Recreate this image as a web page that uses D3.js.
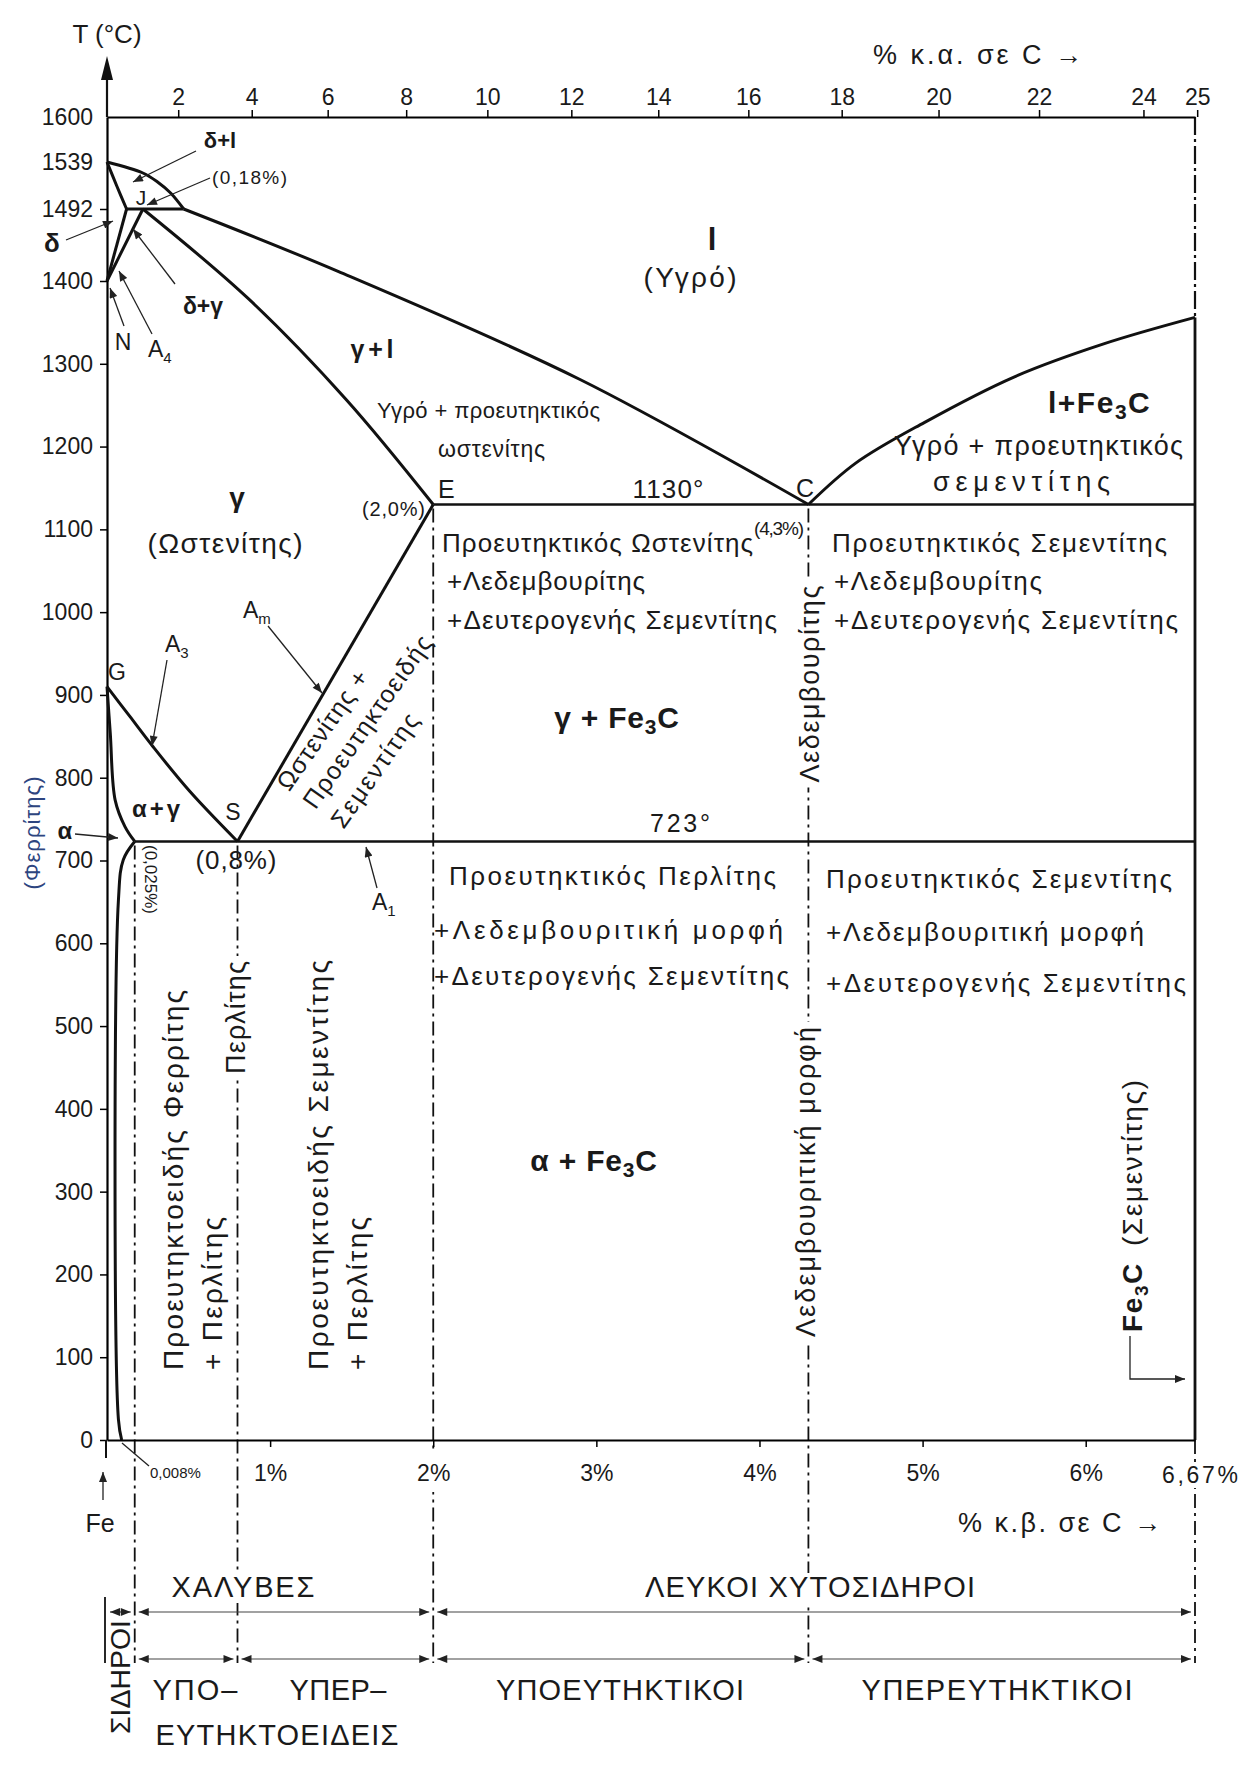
<!DOCTYPE html>
<html>
<head>
<meta charset="utf-8">
<script src="https://cdnjs.cloudflare.com/ajax/libs/d3/7.8.5/d3.min.js"></script>
<style>
  body { margin: 0; background: #fff; }
  svg { font-family: "Liberation Sans", Arial, Helvetica, sans-serif; }
  text { fill: #1a1a1a; }
</style>
</head>
<body>
<script>
// ---- data: points are [wt% C, temperature °C] ----
var tempTicks = [1600, 1539, 1492, 1400, 1300, 1200, 1100, 1000, 900, 800, 700, 600, 500, 400, 300, 200, 100, 0];
var wtTicks = [1, 2, 3, 4, 5, 6];
var atTicks = [2, 4, 6, 8, 10, 12, 14, 16, 18, 20, 22, 24, 25];

var liquidusAB = [[0, 1539], [0.22, 1528], [0.31, 1519], [0.39, 1508], [0.47, 1492]];
var solidusAH = [[0, 1539], [0.06, 1515], [0.12, 1492]];
var peritectic = [[0.12, 1492], [0.47, 1492]];
var lineHN = [[0.12, 1492], [0, 1400]];
var lineJN = [[0.22, 1492], [0, 1400]];
var solidusJE = [[0.22, 1492], [0.87, 1378], [1.47, 1256], [2.0, 1130]];
var liquidusBC = [[0.47, 1492], [1.42, 1412], [2.9, 1281], [4.3, 1130]];
var liquidusCD = [[4.3, 1130], [4.59, 1180], [5.01, 1229], [5.56, 1284], [6.11, 1324], [6.67, 1356]];
var eutectic = [[2.0, 1130], [6.67, 1130]];
var acmES = [[2.0, 1130], [0.8, 723]];
var a3GS = [[0, 910], [0.14, 874], [0.28, 838], [0.51, 783], [0.8, 723]];
var ferriteGP = [[0, 910], [0.02, 854], [0.05, 773], [0.11, 741], [0.17, 723]];
var solvusPQ = [[0.17, 723], [0.1, 701], [0.07, 652], [0.07, 25], [0.09, 0]];
var eutectoid = [[0.17, 723], [6.67, 723]];

// dash-dot composition lines and where they start
var guideX = [0.17, 0.8, 2.0, 4.3];
var guideTop = [723, 723, 1130, 1130];
var edgeX = 6.67, edgeD = 1356;

// classification arrows under the chart
var rowSteelCast = [[0, 0.17], [0.17, 2.0], [2.0, 6.67]];
var rowEutectic = [[0.17, 0.8], [0.8, 2.0], [2.0, 4.3], [4.3, 6.67]];

// atomic % -> weight % carbon (Fe 55.85, C 12)
function wtFromAt(a) { return 12 * a / (12 * a + 55.85 * (100 - a)) * 100; }

window.onload = function () {
  var W = 1252, H = 1767;
  var svg = d3.select("body").append("svg").attr("width", W).attr("height", H);

  var x = d3.scaleLinear().domain([0, 6.67]).range([107, 1195]);
  // top of the picture is stretched around the delta region
  var y = d3.scaleLinear().domain([0, 1400, 1492, 1539, 1600]).range([1440, 281, 209, 162, 117]);
  var yBottom = 1663;
  var font = "Liberation Sans, Arial, sans-serif";

  var defs = svg.append("defs");
  defs.append("marker").attr("id", "arr").attr("viewBox", "0 0 10 8")
    .attr("refX", 10).attr("refY", 4).attr("markerWidth", 11).attr("markerHeight", 8)
    .attr("markerUnits", "userSpaceOnUse").attr("orient", "auto-start-reverse")
    .append("path").attr("d", "M0,0 L10,4 L0,8 z").attr("fill", "#222");

  var line = d3.line().x(function (d) { return x(d[0]); }).y(function (d) { return y(d[1]); });
  var curvy = d3.line().x(function (d) { return x(d[0]); }).y(function (d) { return y(d[1]); })
    .curve(d3.curveCatmullRom.alpha(0.5));

  // white box behind a text so the dash-dot lines break around it
  function mask(node, pad) {
    var b = node.getBBox();
    var r = d3.select(node.parentNode).insert("rect", function () { return node; })
      .attr("x", b.x - pad).attr("y", b.y + 2).attr("width", b.width + 2 * pad).attr("height", b.height - 2)
      .attr("fill", "#fff");
    var tr = node.getAttribute("transform");
    if (tr) r.attr("transform", tr);
    return r;
  }

  // ---- axes ----
  var left = svg.append("g").attr("transform", "translate(107,0)")
    .call(d3.axisLeft(y).tickValues(tempTicks).tickSize(7).tickSizeOuter(0).tickPadding(7)
      .tickFormat(d3.format("d")));
  left.selectAll("text").attr("font-size", 23).attr("font-family", font).attr("fill", "#1a1a1a");
  left.selectAll("line").attr("stroke-width", 1.5);
  left.select(".domain").attr("stroke-width", 2.2);
  left.selectAll(".tick").filter(function (d) { return d === 1600 || d === 1539; }).select("line").remove();
  // axis arrow up + stub below zero
  svg.append("line").attr("x1", 107).attr("x2", 107).attr("y1", 117).attr("y2", 78).attr("stroke", "#111").attr("stroke-width", 2.2);
  svg.append("path").attr("d", "M107,56 L101,80 L113,80 z").attr("fill", "#111");
  svg.append("line").attr("x1", 106).attr("x2", 106).attr("y1", 1440).attr("y2", 1458).attr("stroke", "#111").attr("stroke-width", 2);

  // ---- phase boundaries ----
  var g = svg.append("g").attr("fill", "none").attr("stroke", "#111").attr("stroke-linejoin", "round");
  [liquidusAB, solidusAH, liquidusBC, liquidusCD, solidusJE, a3GS, ferriteGP, solvusPQ].forEach(function (d) {
    g.append("path").attr("d", curvy(d)).attr("stroke-width", 3);
  });
  [peritectic, lineHN, lineJN, acmES].forEach(function (d) {
    g.append("path").attr("d", line(d)).attr("stroke-width", 3);
  });
  [eutectic, eutectoid].forEach(function (d) {
    g.append("path").attr("d", line(d)).attr("stroke-width", 2.6);
  });

  // right edge: dash-dot above the liquidus, solid below
  g.append("line").attr("x1", x(edgeX)).attr("x2", x(edgeX)).attr("y1", y(1600)).attr("y2", y(edgeD))
    .attr("stroke-width", 2.2).attr("stroke-dasharray", "18,4,3,4");
  g.append("line").attr("x1", x(edgeX)).attr("x2", x(edgeX)).attr("y1", y(edgeD)).attr("y2", y(0))
    .attr("stroke-width", 2.8);
  g.append("line").attr("x1", x(edgeX)).attr("x2", x(edgeX)).attr("y1", y(0)).attr("y2", yBottom)
    .attr("stroke-width", 1.8).attr("stroke-dasharray", "14,5,3,5");

  // composition guide lines
  guideX.forEach(function (c, i) {
    g.append("line").attr("x1", x(c)).attr("x2", x(c)).attr("y1", y(guideTop[i]) + 4).attr("y2", yBottom)
      .attr("stroke-width", 1.8).attr("stroke-dasharray", "14,5,3,5");
  });
  // little fence left of "ΣΙΔΗΡΟΙ"
  g.append("line").attr("x1", 105).attr("x2", 105).attr("y1", 1597).attr("y2", yBottom).attr("stroke-width", 1.8);

  // bottom + top axes drawn after the guides so their labels can mask them
  var bottom = svg.append("g").attr("transform", "translate(0,1440)")
    .call(d3.axisBottom(x).tickValues(wtTicks).tickSize(7).tickSizeOuter(0)
      .tickFormat(function (d) { return d + "%"; }));
  bottom.selectAll("text").attr("font-size", 23).attr("y", 25).attr("dy", "0.71em")
    .attr("font-family", font).attr("fill", "#1a1a1a");
  bottom.select(".domain").attr("stroke-width", 2.2);
  bottom.selectAll("line").attr("stroke-width", 1.5);
  bottom.selectAll("text").each(function () { mask(this, 4).attr("y", 10).attr("height", 42); });

  var top = svg.append("g").attr("transform", "translate(0,117)")
    .call(d3.axisTop(x).tickValues(atTicks.map(wtFromAt)).tickSize(7).tickSizeOuter(0).tickPadding(5)
      .tickFormat(function (d, i) { return atTicks[i]; }));
  top.selectAll("text").attr("font-size", 23).attr("font-family", font).attr("fill", "#1a1a1a");
  top.select(".domain").attr("stroke-width", 2.2);
  top.selectAll("line").attr("stroke-width", 1.5);

  // classification arrows
  function arrowRow(row, yy) {
    row.forEach(function (s) {
      var a = s[0] === 0 ? 106 : x(s[0]);
      svg.append("line").attr("x1", a + 4).attr("x2", x(s[1]) - 4).attr("y1", yy).attr("y2", yy)
        .attr("stroke", "#444").attr("stroke-width", 1.2)
        .attr("marker-start", "url(#arr)").attr("marker-end", "url(#arr)");
    });
  }
  arrowRow(rowSteelCast, 1612);
  arrowRow(rowEutectic, 1659);

  // ---- annotation pointers ----
  function pointer(x1, y1, x2, y2, head) {
    var l = svg.append("line").attr("x1", x1).attr("y1", y1).attr("x2", x2).attr("y2", y2)
      .attr("stroke", "#222").attr("stroke-width", 1.3);
    if (head !== false) l.attr("marker-end", "url(#arr)");
  }
  pointer(196, 151, 133, 182);
  pointer(210, 178, 147, 205);
  pointer(66, 240, 113, 221);
  pointer(175, 284, 133, 229);
  pointer(124, 326, 110, 288);
  pointer(152, 334, 119, 271);
  pointer(167, 660, 152, 746);
  pointer(268, 626, 322, 693);
  pointer(75, 834, 118, 838);
  pointer(377, 888, 366, 847);
  pointer(122, 1443, 149, 1466, false);
  pointer(103, 1500, 103, 1472);
  // Fe3C bracket
  svg.append("path").attr("d", "M1130,1336 V1379 H1185").attr("fill", "none").attr("stroke", "#222")
    .attr("stroke-width", 1.3).attr("marker-end", "url(#arr)");

  // ---- text ----
  // o.w = width the text takes in the reference (spacing stretched to it)
  function label(px, py, str, size, o) {
    o = o || {};
    var t = svg.append("text").attr("font-size", size).html(str);
    if (o.rot) t.attr("transform", "translate(" + px + "," + py + ") rotate(" + o.rot + ")");
    else t.attr("x", px).attr("y", py);
    t.attr("text-anchor", o.anchor || "start");
    if (o.bold) t.attr("font-weight", "bold");
    if (o.fill) t.style("fill", o.fill);
    if (o.ls) t.attr("letter-spacing", o.ls);
    if (o.w) t.attr("textLength", o.w).attr("lengthAdjust", "spacing");
    if (o.mask) mask(t.node(), 5);
    return t;
  }
  function sub(s, size) { return '<tspan dy="6" font-size="' + size + '">' + s + '</tspan>'; }
  var fe3c = function (size) { return 'Fe<tspan dy="6" font-size="' + size + '">3</tspan><tspan dy="-6">C</tspan>'; };

  label(107, 43, "T (°C)", 26, { anchor: "middle" });
  label(873, 64, "% κ.α. σε C →", 27, { w: 209 });

  // delta corner
  label(220, 148, "δ+l", 22, { anchor: "middle", bold: true });
  label(212, 184, "(0,18%)", 19, { w: 75 });
  label(141, 205, "J", 21, { anchor: "middle" });
  label(52, 252, "δ", 26, { anchor: "middle", bold: true });
  label(203, 314, "δ+γ", 23, { anchor: "middle", bold: true });
  label(123, 350, "N", 23, { anchor: "middle" });
  label(148, 357, "A" + sub("4", 15), 23);

  // liquid
  label(712, 250, "l", 31, { anchor: "middle", bold: true });
  label(690, 287, "(Υγρό)", 28, { anchor: "middle", w: 93 });
  label(372, 358, "γ+l", 25, { anchor: "middle", bold: true, w: 43 });
  label(377, 418, "Υγρό + προευτηκτικός", 22, { w: 223 });
  label(438, 457, "ωστενίτης", 23, { w: 107 });
  label(438, 498, "E", 25);
  label(425, 516, "(2,0%)", 20, { anchor: "end", w: 63 });
  label(668, 498, "1130°", 26, { anchor: "middle", w: 71 });
  label(805, 497, "C", 25, { anchor: "middle" });
  label(804, 535, "(4,3%)", 19, { anchor: "end", w: 50 });
  label(1048, 413, "l+" + fe3c(21), 30, { bold: true, ls: 1.5 });
  label(894, 455, "Υγρό + προευτηκτικός", 27, { w: 289 });
  label(933, 491, "σεμεντίτης", 27, { w: 177 });

  // between 1130 and 723
  label(442, 552, "Προευτηκτικός Ωστενίτης", 26, { w: 311 });
  label(447, 590, "+Λεδεμβουρίτης", 26, { w: 198 });
  label(447, 629, "+Δευτερογενής Σεμεντίτης", 26, { w: 330 });
  label(832, 552, "Προευτηκτικός Σεμεντίτης", 26, { w: 335 });
  label(834, 590, "+Λεδεμβουρίτης", 26, { w: 208 });
  label(834, 629, "+Δευτερογενής Σεμεντίτης", 26, { w: 344 });
  label(237, 507, "γ", 28, { anchor: "middle", bold: true });
  label(225, 553, "(Ωστενίτης)", 28, { anchor: "middle", w: 155 });
  label(617, 728, "γ + " + fe3c(21), 30, { anchor: "middle", bold: true, ls: 0.8 });
  label(680, 832, "723°", 25, { anchor: "middle", w: 60 });
  label(165, 652, "A" + sub("3", 15), 23);
  label(243, 618, "A" + sub("m", 15), 23);
  label(108, 680, "G", 23);
  label(156, 817, "α+γ", 24, { anchor: "middle", bold: true, w: 48 });
  label(233, 820, "S", 23, { anchor: "middle" });
  label(65, 839, "α", 24, { anchor: "middle", bold: true });
  label(40, 833, "(Φερρίτης)", 22, { anchor: "middle", rot: -90, fill: "#2d4580", w: 113 });
  label(236, 869, "(0,8%)", 26, { anchor: "middle", w: 81 });
  label(145, 845, "(0,025%)", 17, { rot: 90 });
  label(372, 910, "A" + sub("1", 15), 23);

  var slant = svg.append("g").attr("transform", "translate(309,806) rotate(-55)");
  [["Ωστενίτης +", 140], ["Προευτηκτοειδής", 205], ["Σεμεντίτης", 134]].forEach(function (s, i) {
    slant.append("text").attr("x", 0).attr("y", [-24, 8, 42][i]).attr("font-size", 25)
      .attr("textLength", s[1]).attr("lengthAdjust", "spacing").text(s[0]);
  });

  // below 723
  label(449, 885, "Προευτηκτικός Περλίτης", 26, { w: 327 });
  label(434, 939, "+Λεδεμβουριτική μορφή", 26, { w: 349 });
  label(434, 985, "+Δευτερογενής Σεμεντίτης", 26, { w: 355 });
  label(826, 888, "Προευτηκτικός Σεμεντίτης", 26, { w: 346 });
  label(826, 941, "+Λεδεμβουριτική μορφή", 26, { w: 318 });
  label(826, 992, "+Δευτερογενής Σεμεντίτης", 26, { w: 360 });
  label(594, 1171, "α + " + fe3c(21), 30, { anchor: "middle", bold: true, ls: 0.8 });

  // vertical texts
  label(183, 1370, "Προευτηκτοειδής Φερρίτης", 28, { rot: -90, w: 380 });
  label(222, 1370, "+ Περλίτης", 28, { rot: -90, w: 153 });
  label(245, 1074, "Περλίτης", 27, { rot: -90, mask: true, w: 113 });
  label(328, 1370, "Προευτηκτοειδής Σεμεντίτης", 28, { rot: -90, w: 410 });
  label(367, 1370, "+ Περλίτης", 28, { rot: -90, w: 153 });
  label(819, 684, "Λεδεμβουρίτης", 27, { rot: -90, anchor: "middle", mask: true, w: 197 });
  label(815, 1182, "Λεδεμβουριτική μορφή", 27, { rot: -90, anchor: "middle", mask: true, w: 310 });
  label(1142, 1332, '<tspan font-weight="bold">' + fe3c(19) + '</tspan><tspan dx="16">(Σεμεντίτης)</tspan>', 28,
    { rot: -90, ls: 1.6 });

  // under the axis
  label(150, 1478, "0,008%", 15);
  label(1200, 1483, "6,67%", 23, { anchor: "middle", mask: true, w: 76 });
  label(100, 1532, "Fe", 25, { anchor: "middle" });
  label(958, 1532, "% κ.β. σε C →", 27, { w: 203 });
  label(243, 1597, "ΧΑΛΥΒΕΣ", 29, { anchor: "middle", mask: true, w: 143 });
  label(810, 1597, "ΛΕΥΚΟΙ ΧΥΤΟΣΙΔΗΡΟΙ", 29, { anchor: "middle", mask: true, w: 330 });
  label(195, 1700, "ΥΠΟ–", 29, { anchor: "middle", w: 85 });
  label(338, 1700, "ΥΠΕΡ–", 29, { anchor: "middle", w: 97 });
  label(277, 1745, "ΕΥΤΗΚΤΟΕΙΔΕΙΣ", 29, { anchor: "middle", w: 243 });
  label(620, 1700, "ΥΠΟΕΥΤΗΚΤΙΚΟΙ", 29, { anchor: "middle", w: 248 });
  label(997, 1700, "ΥΠΕΡΕΥΤΗΚΤΙΚΟΙ", 29, { anchor: "middle", w: 271 });
  label(130, 1734, "ΣΙΔΗΡΟΙ", 27, { rot: -90 }).attr("textLength", 114).attr("lengthAdjust", "spacingAndGlyphs");
};
</script>
</body>
</html>
